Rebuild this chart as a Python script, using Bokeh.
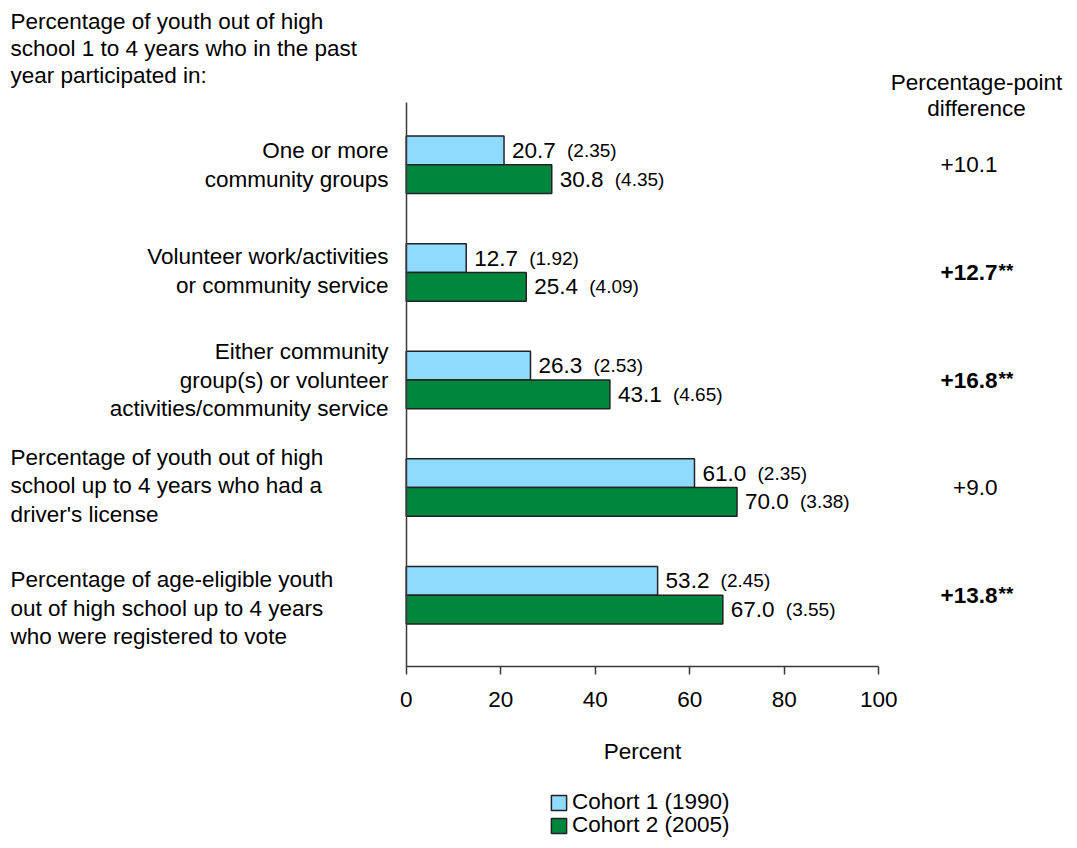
from bokeh.plotting import figure
from bokeh.models import (ColumnDataSource, Range1d, FixedTicker, LabelSet,
                          Legend, LegendItem)
from bokeh.core.properties import value
from bokeh.embed import file_html
from bokeh.resources import INLINE

# ---------------- data ----------------
categories = [
    "One or more\ncommunity groups",
    "Volunteer work/activities\nor community service",
    "Either community\ngroup(s) or volunteer\nactivities/community service",
    "Percentage of youth out of high\nschool up to 4 years who had a\ndriver's license",
    "Percentage of age-eligible youth\nout of high school up to 4 years\nwho were registered to vote",
]
cohort1 = [20.7, 12.7, 26.3, 61.0, 53.2]
se1 = [2.35, 1.92, 2.53, 2.35, 2.45]
cohort2 = [30.8, 25.4, 43.1, 70.0, 67.0]
se2 = [4.35, 4.09, 4.65, 3.38, 3.55]
diffs = ["+10.1", "+12.7", "+16.8", "+9.0", "+13.8"]
significant = [False, True, True, False, True]
series_names = ["Cohort 1 (1990)", "Cohort 2 (2005)"]
x_ticks = [0, 20, 40, 60, 80, 100]
top_left_title = "Percentage of youth out of high\nschool 1 to 4 years who in the past\nyear participated in:"
diff_title = "Percentage-point\ndifference"

# ---------------- styling / layout ----------------
FONT = "Liberation Sans"
FS = "22.5px"
FS_SMALL = "19px"
LIGHT = "#8FDAFF"
GREEN = "#00873E"
EDGE = "#222222"
AXIS = "#3a3a3a"

W, H = 1072, 844
# pixel geometry of the plotting area (canvas pixels)
X0_PX, X100_PX = 405.7, 878.3      # where 0 % and 100 % fall
G0_PX, G_STEP = 164.3, 107.6        # centre of first group and distance between groups
AX_TOP_PX, AX_BOT_PX = 102, 666     # extent of the value axis line

sx = (X100_PX - X0_PX) / 100.0


def px_x(px):
    return (px - X0_PX) / sx


def px_y(py):
    return (py - G0_PX) / G_STEP


HALF = 0.1335          # half bar thickness (data units)
BAR_H = 0.267

n = len(categories)
pos = list(range(n))
y_top = [i - HALF for i in pos]
y_bot = [i + HALF for i in pos]

p = figure(width=W, height=H, output_backend="svg", toolbar_location=None,
           title=None,
           x_range=Range1d(px_x(0), px_x(W)), y_range=Range1d(px_y(H), px_y(0)),
           min_border_left=0, min_border_right=0,
           min_border_top=0, min_border_bottom=0)
p.outline_line_color = None
p.grid.grid_line_color = None
p.background_fill_color = "white"
p.border_fill_color = "white"

# axes drawn at fixed data locations
p.yaxis.fixed_location = 0
p.yaxis.bounds = (px_y(AX_TOP_PX), px_y(AX_BOT_PX))
p.yaxis.ticker = FixedTicker(ticks=[])
p.yaxis.major_tick_line_color = None
p.yaxis.minor_tick_line_color = None
p.yaxis.major_label_text_font_size = "0px"
p.yaxis.axis_line_color = AXIS
p.yaxis.axis_line_width = 1.5

p.xaxis.fixed_location = px_y(AX_BOT_PX)
p.xaxis.bounds = (0, 100)
p.xaxis.ticker = FixedTicker(ticks=x_ticks)
p.xaxis.major_tick_in = 0
p.xaxis.major_tick_out = 8
p.xaxis.major_tick_line_color = AXIS
p.xaxis.major_tick_line_width = 1.5
p.xaxis.minor_tick_line_color = None
p.xaxis.axis_line_color = AXIS
p.xaxis.axis_line_width = 1.5
p.xaxis.major_label_text_font = FONT
p.xaxis.major_label_text_font_size = FS
p.xaxis.major_label_text_color = "black"
p.xaxis.major_label_standoff = 17
p.xaxis.axis_label = "Percent"
p.xaxis.axis_label_text_font = FONT
p.xaxis.axis_label_text_font_size = FS
p.xaxis.axis_label_text_font_style = "normal"
p.xaxis.axis_label_text_color = "black"
p.xaxis.axis_label_standoff = 29

# bars
src = ColumnDataSource(dict(
    y1=y_top, y2=y_bot, c1=cohort1, c2=cohort2,
    t1=[f"{v:.1f}" for v in cohort1], t2=[f"{v:.1f}" for v in cohort2],
    s1=[f"({v:.2f})" for v in se1], s2=[f"({v:.2f})" for v in se2],
))
r1 = p.hbar(y="y1", left=0, right="c1", height=BAR_H, source=src,
            fill_color=LIGHT, line_color=EDGE, line_width=1.5)
r2 = p.hbar(y="y2", left=0, right="c2", height=BAR_H, source=src,
            fill_color=GREEN, line_color=EDGE, line_width=1.5)

TXT = dict(text_font=value(FONT), text_color="black", text_baseline="middle")

# value labels
for xcol, ycol, tcol, scol in (("c1", "y1", "t1", "s1"), ("c2", "y2", "t2", "s2")):
    p.add_layout(LabelSet(x=xcol, y=ycol, text=tcol, source=src, x_offset=8,
                          text_font_size=value(FS), text_align="left", **TXT))
    p.add_layout(LabelSet(x=xcol, y=ycol, text=scol, source=src, x_offset=63,
                          text_font_size=value(FS_SMALL), text_align="left", **TXT))


def split_lines(text, x, y_center, step):
    lines = text.split("\n")
    k = len(lines)
    return ([x] * k,
            [y_center + (j - (k - 1) / 2.0) * step for j in range(k)],
            lines)


LINE = 28.7 / G_STEP          # line spacing of the multi-line labels (data units)

# category labels (first three right aligned next to the axis, last two left aligned)
label_dy = [0, -0.015, 0, -0.015, 0.119]
rx, ry, rt, lx, ly, lt = [], [], [], [], [], []
for i, cat in enumerate(categories):
    if i < 3:
        xs, ys, ts = split_lines(cat, px_x(388), pos[i] + label_dy[i], LINE)
        rx += xs; ry += ys; rt += ts
    else:
        xs, ys, ts = split_lines(cat, px_x(10), pos[i] + label_dy[i], LINE)
        lx += xs; ly += ys; lt += ts

# top-left heading
xs, ys, ts = split_lines(top_left_title, px_x(10), px_y(48), 27 / G_STEP)
lx += xs; ly += ys; lt += ts

p.add_layout(LabelSet(x="x", y="y", text="t",
                      source=ColumnDataSource(dict(x=rx, y=ry, t=rt)),
                      text_font_size=value(FS), text_align="right", **TXT))
p.add_layout(LabelSet(x="x", y="y", text="t",
                      source=ColumnDataSource(dict(x=lx, y=ly, t=lt)),
                      text_font_size=value(FS), text_align="left", **TXT))

# difference column heading
xs, ys, ts = split_lines(diff_title, px_x(976), px_y(95), 26 / G_STEP)
p.add_layout(LabelSet(x="x", y="y", text="t",
                      source=ColumnDataSource(dict(x=xs, y=ys, t=ts)),
                      text_font_size=value(FS), text_align="center", **TXT))

# difference values
diff_x = px_x(997)
plain = [i for i in range(n) if not significant[i]]
bold = [i for i in range(n) if significant[i]]
plain_src = ColumnDataSource(dict(x=[diff_x] * len(plain), y=[pos[i] for i in plain],
                                  t=[diffs[i] for i in plain]))
bold_src = ColumnDataSource(dict(x=[diff_x] * len(bold), y=[pos[i] for i in bold],
                                 t=[diffs[i] for i in bold], s=["**"] * len(bold)))
p.add_layout(LabelSet(x="x", y="y", text="t", source=plain_src,
                      text_font_size=value(FS), text_align="right", **TXT))
p.add_layout(LabelSet(x="x", y="y", text="t", source=bold_src,
                      text_font_size=value(FS), text_font_style=value("bold"),
                      text_align="right", **TXT))
p.add_layout(LabelSet(x="x", y="y", text="s", source=bold_src, x_offset=1, y_offset=2,
                      text_font_size=value(FS_SMALL), text_font_style=value("bold"),
                      text_align="left", **TXT))

# legend (one entry per legend so the spacing can be matched)
legend_bottoms_px = [815, 838]
for name, rend, bpx in zip(series_names, (r1, r2), legend_bottoms_px):
    lg = Legend(items=[LegendItem(label=name, renderers=[rend])],
                location=(549, H - bpx),
                glyph_width=19, glyph_height=19, label_standoff=4,
                padding=0, margin=0, spacing=0,
                border_line_color=None, background_fill_alpha=0,
                label_text_font=FONT, label_text_font_size=FS,
                label_text_color="black")
    p.add_layout(lg, "center")

open("out.html", "w").write(file_html(p, INLINE))
